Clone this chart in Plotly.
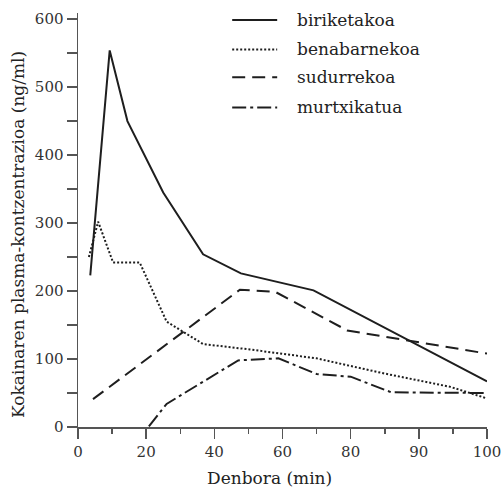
import plotly.graph_objects as go

# x values are positions on the drawn time axis (its labels are 0,20,40,60,80,90,100)
x_tickvals = [0, 20, 40, 60, 80, 100, 120]
x_ticktext = ["0", "20", "40", "60", "80", "90", "100"]
y_tickvals = [0, 100, 200, 300, 400, 500, 600]

names = ["biriketakoa", "benabarnekoa", "sudurrekoa", "murtxikatua"]

biriketakoa_x = [3.6, 9.3, 14.5, 25, 36.7, 47.8, 69.1, 120]
biriketakoa_y = [223, 554, 450, 345, 254, 226, 201, 67]

benabarnekoa_x = [3.2, 5.9, 10.3, 18.1, 26, 36.7, 50.5, 70, 89.6, 109.3, 120]
benabarnekoa_y = [250, 302, 242, 242, 155, 122, 114, 101, 79, 59, 42]

sudurrekoa_x = [4.4, 47.5, 57.8, 79, 120]
sudurrekoa_y = [41, 202, 199, 142, 108]

murtxikatua_x = [20.8, 26, 47, 58.8, 70, 80, 91.9, 120]
murtxikatua_y = [1, 34, 98, 101, 78, 74, 51, 50]

series = [
    (biriketakoa_x, biriketakoa_y),
    (benabarnekoa_x, benabarnekoa_y),
    (sudurrekoa_x, sudurrekoa_y),
    (murtxikatua_x, murtxikatua_y),
]
dashes = ["solid", "2px,2px", "13px,7px", "14px,4px,3px,4px"]
LINE = "#1e1e1e"
AX = "#555555"
FONT = "DejaVu Serif"

fig = go.Figure()
for (xs, ys), name, dash in zip(series, names, dashes):
    fig.add_trace(go.Scatter(x=xs, y=ys, mode="lines", name=name,
                             line=dict(color=LINE, width=2, dash=dash),
                             showlegend=False))

# manual legend
leg_y = [0.983, 0.912, 0.845, 0.772]
for name, dash, yy in zip(names, dashes, leg_y):
    fig.add_shape(type="line", xref="paper", yref="paper",
                  x0=0.377, x1=0.487, y0=yy, y1=yy,
                  line=dict(color=LINE, width=2, dash=dash))
    fig.add_annotation(xref="paper", yref="paper", x=0.531, y=yy,
                       text=name, showarrow=False, xanchor="left",
                       yanchor="middle", font=dict(family=FONT, size=17, color="#222"))

fig.add_annotation(xref="paper", yref="paper", x=0.467, y=-0.124,
                   text="Denbora (min)", showarrow=False, xanchor="center",
                   yanchor="middle", font=dict(family=FONT, size=17, color="#222"))
fig.add_annotation(xref="paper", yref="paper", x=-0.147, y=0.466,
                   text="Kokainaren plasma-kontzentrazioa (ng/ml)", showarrow=False,
                   textangle=-90, xanchor="center", yanchor="middle",
                   font=dict(family=FONT, size=17, color="#222"))

fig.update_xaxes(range=[0, 120], tickvals=x_tickvals, ticktext=x_ticktext,
                 ticks="outside", ticklen=10, tickwidth=1.5, tickcolor=AX,
                 showline=True, linecolor=AX, linewidth=1.5, showgrid=False,
                 zeroline=False,
                 minor=dict(dtick=10, tick0=0, ticks="outside", ticklen=5,
                            tickwidth=1.5, tickcolor=AX, showgrid=False),
                 tickfont=dict(family=FONT, size=15, color="#333"))
fig.update_yaxes(range=[0, 609], tickvals=y_tickvals,
                 ticks="outside", ticklen=10, tickwidth=1.5, tickcolor=AX,
                 showline=True, linecolor=AX, linewidth=1.5, showgrid=False,
                 zeroline=False,
                 minor=dict(dtick=50, tick0=0, ticks="outside", ticklen=10,
                            tickwidth=1.5, tickcolor=AX, showgrid=False),
                 tickfont=dict(family=FONT, size=15, color="#333"))

fig.update_layout(width=502, height=488,
                  margin=dict(l=78, r=15, t=13, b=61, autoexpand=False),
                  paper_bgcolor="white", plot_bgcolor="white",
                  font=dict(family=FONT), hovermode=False)

fig.write_html("out.html", config={"displayModeBar": False, "staticPlot": True},
               post_script="document.body.style.margin='0';document.body.style.padding='0';")
